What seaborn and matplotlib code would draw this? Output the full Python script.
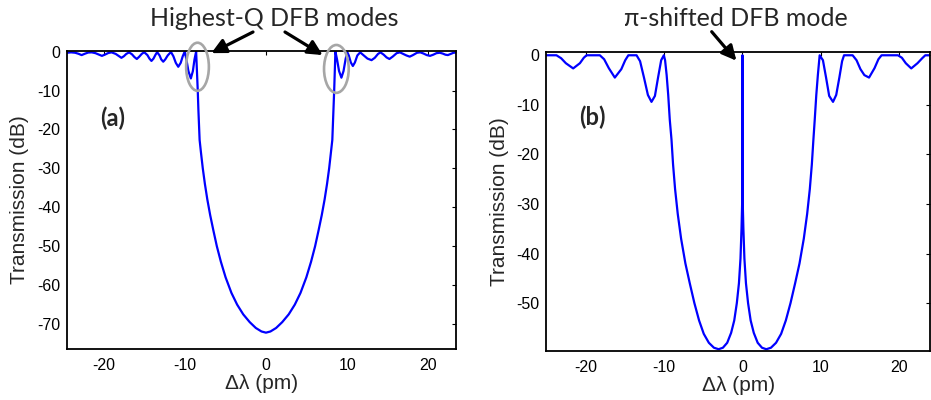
import numpy as np
import pandas as pd
import matplotlib
matplotlib.use("Agg")
import matplotlib.pyplot as plt
from matplotlib.patches import Ellipse
import seaborn as sns

# ---------------- data ----------------
# Panel (a): uniform DFB grating transmission
a_wl = [-24.5, -24.0, -23.5, -23.1, -22.7, -22.3, -21.9, -21.45, -21.0, -20.6, -20.2,
        -19.8, -19.4, -19.0, -18.5, -18.15, -17.8, -17.5, -17.2, -16.85, -16.5, -16.2,
        -15.9, -15.6, -15.3, -15.0, -14.6, -14.35, -14.1, -13.85, -13.6, -13.4, -13.1,
        -12.9, -12.65, -12.4, -12.1, -11.7, -11.4, -11.1, -10.8, -10.5, -10.25, -10.0,
        -9.8, -9.55, -9.25, -9.0, -8.8, -8.6, -8.5, -8.4, -8.32, -8.22, -8.17, -8.0,
        -7.78, -7.52, -7.22, -6.87, -6.47, -6.05, -5.55, -4.97, -4.25, -3.55, -2.8, -2.0,
        -1.25, -0.55, 0.0,
        0.55, 1.25, 2.0, 2.8, 3.55, 4.25, 4.97, 5.55, 6.05, 6.47, 6.87, 7.22, 7.52, 7.78,
        8.0, 8.17, 8.22, 8.32, 8.4, 8.48, 8.55, 8.75, 9.0, 9.29, 9.55, 9.8, 10.0, 10.2,
        10.45, 10.7, 10.95, 11.25, 11.6, 12.0, 12.5, 13.0, 13.4, 13.8, 14.1, 14.5, 14.85,
        15.2, 15.6, 16.1, 16.5, 16.9, 17.3, 17.7, 18.1, 18.6, 19.0, 19.4, 19.8, 20.2,
        20.6, 21.0, 21.4, 21.75, 22.1, 22.4, 22.75, 23.1, 23.4]
a_db = [-0.3, -0.2, -0.3, -0.55, -0.9, -0.55, -0.25, -0.2, -0.4, -0.75, -1.1,
        -0.75, -0.35, -0.2, -0.6, -1.1, -1.6, -1.2, -0.6, -0.2, -0.7, -1.4,
        -1.9, -1.3, -0.6, -0.15, -0.9, -1.8, -2.4, -1.8, -0.8, -0.15, -1.0,
        -2.0, -2.6, -2.0, -1.0, -0.1, -1.2, -2.9, -3.9, -2.9, -1.2, 0.0,
        -2.0, -5.0, -6.9, -5.0, -2.0, 0.0, -5.0, -10.0, -15.0, -20.0, -22.7, -26.0,
        -30.0, -34.0, -38.0, -42.0, -46.0, -50.0, -54.0, -58.0, -62.0, -65.0, -67.5, -69.5,
        -71.0, -71.9, -72.2,
        -71.9, -71.0, -69.5, -67.5, -65.0, -62.0, -58.0, -54.0, -50.0, -46.0, -42.0, -38.0, -34.0, -30.0,
        -26.0, -22.7, -20.0, -15.0, -10.0, -5.0, 0.0, -2.0, -5.0, -6.7, -5.0, -2.0, -0.1, -1.0,
        -2.8, -3.7, -2.8, -1.0, -0.2, -0.9, -1.8, -2.2, -1.6, -0.6, -0.2, -0.8, -1.5,
        -1.9, -1.3, -0.4, -0.2, -0.6, -1.0, -1.3, -0.9, -0.3, -0.2, -0.5, -0.9, -1.1,
        -0.8, -0.4, -0.3, -0.5, -0.8, -0.9, -0.6, -0.3, -0.25]

# Panel (b): pi-shifted DFB grating transmission
b_wl = [-25.1, -23.8, -23.2, -22.6, -21.66, -20.8, -20.3, -19.95, -18.25, -17.7, -17.1,
        -16.33, -15.5, -15.0, -14.6, -13.55, -13.1, -12.6, -12.1, -11.64, -11.2, -10.8,
        -10.4, -10.06, -9.9, -9.7, -9.5, -9.3, -9.08, -8.88, -8.62, -8.28, -7.85, -7.3,
        -6.74, -6.15, -5.55, -4.95, -4.3, -3.65, -3.05, -2.5, -1.95, -1.45, -1.05, -0.72,
        -0.45, -0.25, -0.12, -0.05, -0.01, 0.0, 0.01, 0.05, 0.12, 0.25, 0.45, 0.72, 1.05,
        1.45, 1.95, 2.5, 3.05, 3.65, 4.3, 4.95, 5.55, 6.15, 6.74, 7.3, 7.85, 8.28, 8.62,
        8.88, 9.08, 9.25, 9.45, 9.65, 9.88, 10.3, 10.7, 11.1, 11.59, 12.0, 12.4, 12.75,
        13.0, 14.1, 14.6, 15.1, 15.6, 16.2, 16.9, 17.4, 17.8, 19.9, 20.4, 20.9, 21.6,
        22.4, 23.0, 23.4, 24.0]
b_db = [0.0, 0.0, -0.6, -1.6, -2.65, -1.6, -0.5, 0.0, 0.0, -0.8, -2.6,
        -4.5, -2.8, -1.0, 0.0, 0.0, -1.2, -4.5, -8.0, -9.4, -8.2, -4.5,
        -1.0, 0.0, -1.0, -4.0, -8.0, -13.0, -17.0, -22.0, -27.0, -32.0, -37.0, -42.0,
        -46.0, -50.0, -53.5, -56.2, -58.0, -59.0, -59.3, -59.0, -58.0, -56.0, -53.5, -50.0,
        -46.0, -41.0, -35.0, -30.6, -27.5, 0.0, -27.5, -30.6, -35.0, -41.0, -46.0, -50.0, -53.5,
        -56.0, -58.0, -59.0, -59.3, -59.0, -58.0, -56.2, -53.5, -50.0, -46.0, -42.0, -37.0, -32.0, -27.0,
        -22.0, -17.0, -13.0, -8.0, -4.0, 0.0, -1.0, -4.5, -8.2, -9.4, -8.0, -4.5, -1.2,
        0.0, 0.0, -1.0, -2.8, -4.0, -4.5, -2.6, -0.8, 0.0, 0.0, -0.5, -1.6, -2.65,
        -1.6, -0.6, 0.0, 0.0]

x_ticks = [-20, -10, 0, 10, 20]
a_yticks = [0, -10, -20, -30, -40, -50, -60, -70]
b_yticks = [0, -10, -20, -30, -40, -50]
x_label = "\u0394\u03bb (pm)"
y_label = "Transmission (dB)"

df_a = pd.DataFrame({"wl": a_wl, "db": a_db})
df_b = pd.DataFrame({"wl": b_wl, "db": b_db})

# ---------------- figure ----------------
sns.set_style("white")
plt.rcParams["font.family"] = ["Liberation Sans", "DejaVu Sans"]

W, H = 931, 400
fig = plt.figure(figsize=(W / 100, H / 100), dpi=100)

def px_axes(l, t, r, b):
    return fig.add_axes([l / W, 1 - b / H, (r - l) / W, (b - t) / H])

ax_a = px_axes(67, 51, 456, 349)
ax_b = px_axes(546.3, 52.3, 930, 350.7)

blue = "#0000ff"
sns.lineplot(data=df_a, x="wl", y="db", ax=ax_a, color=blue, lw=1.6,
             sort=False, estimator=None)
sns.lineplot(data=df_b, x="wl", y="db", ax=ax_b, color=blue, lw=1.6,
             sort=False, estimator=None)

ax_a.set_xlim(-24.5, 23.4)
ax_a.set_ylim(-76.4, 0.15)
ax_b.set_xlim(-25.1, 24.0)
ax_b.set_ylim(-59.6, 0.6)

for ax, yt in ((ax_a, a_yticks), (ax_b, b_yticks)):
    ax.set_xticks(x_ticks)
    ax.set_xticklabels([str(v) for v in x_ticks])
    ax.set_yticks(yt)
    ax.set_yticklabels([str(v) for v in yt])
    ax.tick_params(direction="in", length=3, width=0.8, labelsize=11.5,
                   top=True, right=True, pad=5, colors="black")
    ax.tick_params(axis="x", pad=6.5)
    for s in ax.spines.values():
        s.set_visible(True)
        s.set_color("black")
        s.set_linewidth(1.3)
    ax.set_xlabel(x_label, fontsize=15)
    ax.set_ylabel(y_label, fontsize=15)
    ax.xaxis.set_label_coords(0.5, -0.085)

ax_a.yaxis.set_label_coords(-0.097, 0.5)
ax_b.yaxis.set_label_coords(-0.096, 0.5)

# ellipses marking the highest-Q modes
for cx, cy, w, h in ((-8.43, -3.9, 2.8, 12.35), (8.67, -4.45, 3.04, 12.3)):
    ax_a.add_patch(Ellipse((cx, cy), w, h, fill=False, edgecolor="#a6a6a6",
                           lw=1.9, clip_on=False, zorder=5))

# panel labels
fig.text(113 / W, 1 - 118 / H, "(a)", fontsize=17, fontweight="bold",
         family=["Lato", "DejaVu Sans"], ha="center", va="center")
fig.text(592 / W, 1 - 117 / H, "(b)", fontsize=17, fontweight="bold",
         family=["Lato", "DejaVu Sans"], ha="center", va="center")

# annotations
fig.text(274 / W, 1 - 18 / H, "Highest-Q DFB modes", fontsize=18,
         family=["Lato", "DejaVu Sans"], ha="center", va="center")
fig.text(735.5 / W, 1 - 18 / H, "\u03c0-shifted DFB mode", fontsize=18,
         family=["Lato", "DejaVu Sans"], ha="center", va="center")

arrow_kw = dict(arrowstyle="-|>", lw=2.3, color="black", mutation_scale=22,
                shrinkA=0, shrinkB=0)
ax_a.annotate("", xy=(-6.73, -0.4), xycoords="data",
              xytext=(253 / W, 1 - 32 / H), textcoords="figure fraction",
              arrowprops=arrow_kw, annotation_clip=False)
ax_a.annotate("", xy=(6.99, -0.9), xycoords="data",
              xytext=(285 / W, 1 - 32 / H), textcoords="figure fraction",
              arrowprops=arrow_kw, annotation_clip=False)
ax_b.annotate("", xy=(-0.77, -1.1), xycoords="data",
              xytext=(711.7 / W, 1 - 31.7 / H), textcoords="figure fraction",
              arrowprops=arrow_kw, annotation_clip=False)

fig.savefig("out.png", dpi=100)
